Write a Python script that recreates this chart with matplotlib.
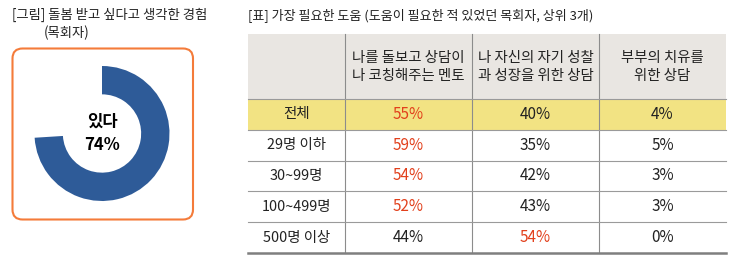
import matplotlib.pyplot as plt
from matplotlib import patches
import numpy as np

plt.rcParams['font.family'] = ['Noto Sans CJK KR', 'DejaVu Sans']

# donut data
pie_label = '있다'
pie_values = [74, 26]

# table data
col_headers = ['나를 돌보고 상담이\n나 코칭해주는 멘토',
               '나 자신의 자기 성찰\n과 성장을 위한 상담',
               '부부의 치유를\n위한 상담']
row_labels = ['전체', '29명 이하', '30~99명', '100~499명', '500명 이상']
values = np.array([[55, 40, 4],
                   [59, 35, 5],
                   [54, 42, 3],
                   [52, 43, 3],
                   [44, 54, 0]])

W, H = 743, 266
fig = plt.figure(figsize=(W / 100, H / 100), dpi=100)
ax = fig.add_axes([0, 0, 1, 1])
ax.set_xlim(0, W)
ax.set_ylim(H, 0)
ax.axis('off')

blue = '#2E5B98'
orange = '#F47B3A'
red = '#E2401C'

# left panel
ax.text(12, 15, '[그림] 돌봄 받고 싶다고 생각한 경험', fontsize=9.6, va='center', ha='left', color='#222222')
ax.text(67, 33, '(목회자)', fontsize=9.6, va='center', ha='center', color='#222222')
box = patches.FancyBboxPatch((12.5, 48.5), 180.5, 171, boxstyle='round,pad=0,rounding_size=10',
                             fill=False, edgecolor=orange, linewidth=1.5)
ax.add_patch(box)

cx, cy, R = 102, 133.5, 67.5
pax = fig.add_axes([(cx - R) / W, (H - cy - R) / H, 2 * R / W, 2 * R / H])
pax.pie(pie_values, colors=[blue, 'none'], startangle=90, counterclock=False,
        wedgeprops=dict(width=0.42, linewidth=0))
pax.set_xlim(-1, 1)
pax.set_ylim(-1, 1)
pax.text(0, 0, f'{pie_label}\n{pie_values[0]}%', ha='center', va='center',
         fontsize=12, fontweight='bold', linespacing=1.35)

# table
ax.text(248, 15, '[표] 가장 필요한 도움 (도움이 필요한 적 있었던 목회자, 상위 3개)', fontsize=9.4,
        va='center', ha='left', color='#222222')

xs = [248, 345, 472, 599, 726]
head_top, head_bot = 34, 99
row_h = 30.8

ax.add_patch(patches.Rectangle((xs[0], head_top), xs[-1] - xs[0], head_bot - head_top,
                               facecolor='#E9E6E2', edgecolor='none'))
ax.add_patch(patches.Rectangle((xs[0], head_bot), xs[-1] - xs[0], row_h,
                               facecolor='#F2E383', edgecolor='none'))

for j, h in enumerate(col_headers):
    ax.text((xs[j + 1] + xs[j + 2]) / 2, (head_top + head_bot) / 2 + 0.5, h, ha='center', va='center',
            fontsize=10.4, linespacing=1.35, color='#222222')

for i, lab in enumerate(row_labels):
    yc = head_bot + row_h * (i + 0.5)
    ax.text((xs[0] + xs[1]) / 2, yc, lab, ha='center', va='center', fontsize=10.4, color='#222222',
            fontweight='medium' if i == 0 else 'normal')
    mx = values[i].max()
    for j, v in enumerate(values[i]):
        ax.text((xs[j + 1] + xs[j + 2]) / 2, yc, f'{v}%', ha='center', va='center', fontsize=11,
                color=red if v == mx else '#222222')

table_bot = head_bot + row_h * len(row_labels)
for x in xs[1:-1]:
    ax.plot([x, x], [head_top, table_bot], color='#8C8C8C', linewidth=0.8)
for i in range(len(row_labels)):
    y = head_bot + row_h * i
    ax.plot([xs[0], xs[-1]], [y, y], color='#9A9A9A', linewidth=0.8)
ax.plot([xs[0], xs[-1]], [table_bot, table_bot], color='#7F7F7F', linewidth=1.8)

fig.savefig('out.png', dpi=100)
